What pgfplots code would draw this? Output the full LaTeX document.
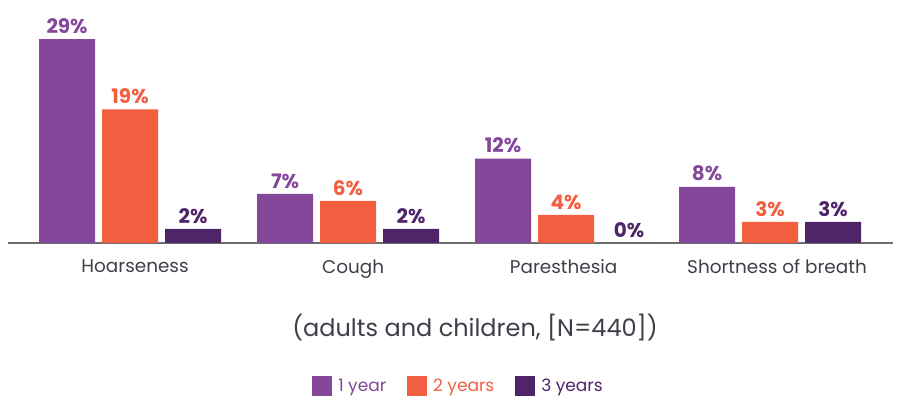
\documentclass[border=0pt]{standalone}
\usepackage{pgfplots}
\pgfplotsset{compat=1.18}
\usepackage{fontspec}
\setmainfont{Poppins}
\definecolor{cA}{HTML}{84479A}
\definecolor{cB}{HTML}{F15E40}
\definecolor{cC}{HTML}{4F2468}
\definecolor{txt}{HTML}{3F3F4A}
\definecolor{axl}{HTML}{6D6E71}
\begin{document}
\begin{tikzpicture}[x=1pt,y=1pt]
\useasboundingbox (0,0) rectangle (900,411);
\begin{axis}[
  at={(8pt,168pt)}, anchor=south west,
  scale only axis, width=885pt, height=242.5pt,
  xmin=-0.56, xmax=3.50, ymin=0, ymax=34.5,
  axis y line=none,
  axis x line*=bottom,
  x axis line style={draw=axl, line width=1.3pt, -},
  xtick={0.023,1.023,1.989,2.968},
  xticklabels={Hoarseness,Cough,Paresthesia,Shortness of breath},
  major tick length=0pt,
  xticklabel style={font=\fontsize{18.4}{21}\selectfont, text=txt, yshift=-13pt},
  /pgf/number format/assume math mode=true,
  ybar, bar width=0.257,
  nodes near coords={\pgfmathprintnumber{\pgfplotspointmeta}\%},
  every node near coord/.append style={font=\fontsize{20}{23}\selectfont\bfseries, yshift=2pt},
  legend style={at={(0.509,-0.59)}, anchor=center, draw=none, fill=none,
    legend columns=-1, font=\fontsize{17}{20}\selectfont,
    /tikz/every odd column/.append style={column sep=4pt},
    /tikz/every even column/.append style={column sep=19pt}},
  legend image code/.code={\fill[#1] (0pt,-10pt) rectangle (20pt,10pt);},
  clip=false,
]
\addplot[fill=cA, draw=none, bar shift=-0.289, nodes near coords style={text=cA}]
  coordinates {(0,29) (1,7) (2,12) (2.936,8)};
\addlegendentry{\textcolor{cA}{1 year}}
\addplot[fill=cB, draw=none, bar shift=0, nodes near coords style={text=cB}]
  coordinates {(0,19) (1,6) (2,4) (2.936,3)};
\addlegendentry{\textcolor{cB}{2 years}}
\addplot[fill=cC, draw=none, bar shift=0.289, nodes near coords style={text=cC}]
  coordinates {(0,2) (1,2) (2,0) (2.936,3)};
\addlegendentry{\textcolor{cC}{3 years}}
\end{axis}
\node[font=\fontsize{24}{28}\selectfont, text=txt] at (475,83) {(adults and children, [N=440])};
\end{tikzpicture}
\end{document}
